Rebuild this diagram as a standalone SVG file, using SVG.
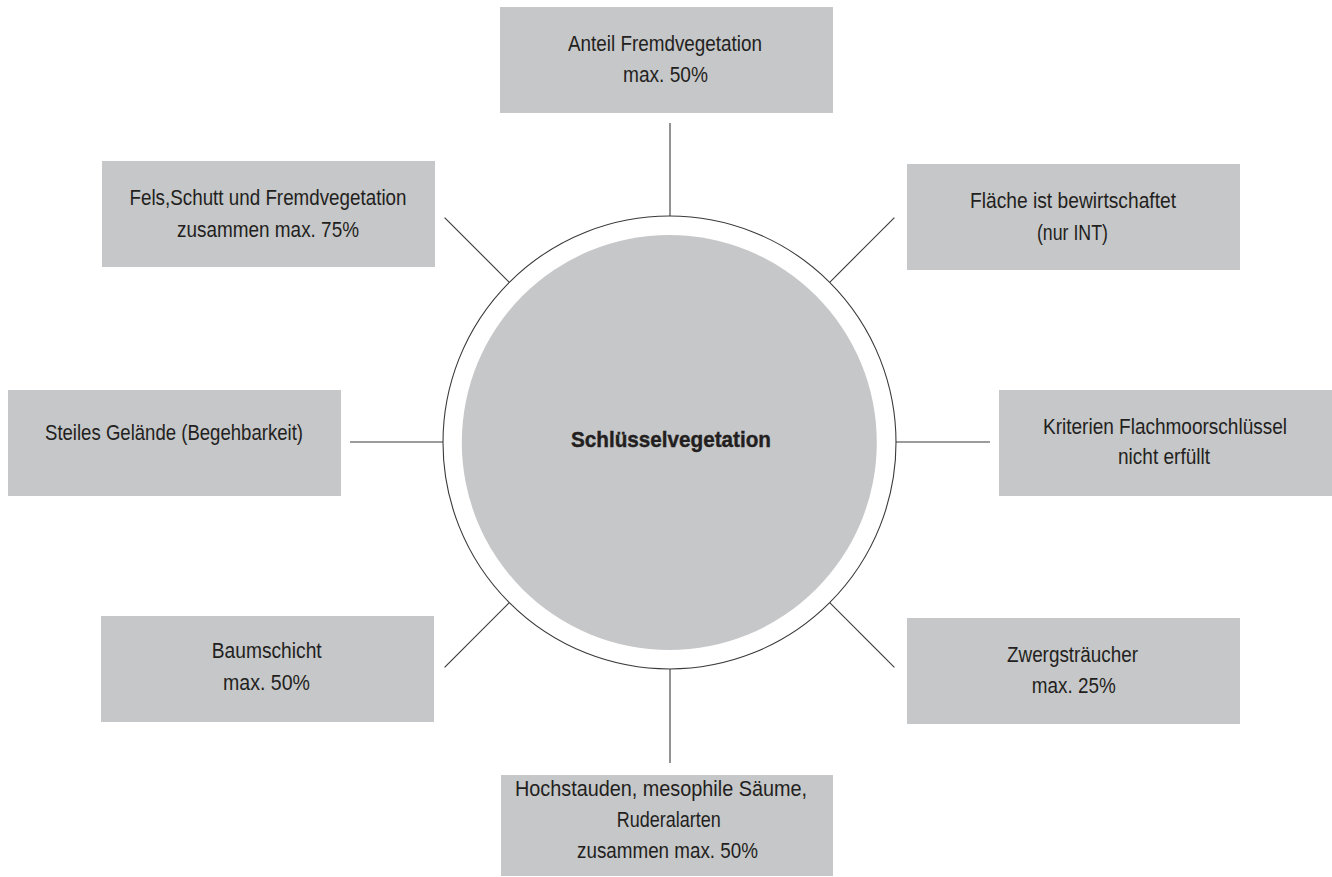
<svg xmlns="http://www.w3.org/2000/svg" width="1332" height="877" viewBox="0 0 1332 877">
<style>
.box{fill:#c6c7c9}
.t{font-family:"Liberation Sans",Arial,sans-serif;font-size:22px;fill:#231f20;text-anchor:middle}
.c{stroke:#3a3a3a;stroke-width:1.1;fill:none}
.h{font-family:"Liberation Sans",Arial,sans-serif;font-size:22px;font-weight:bold;fill:#231f20;text-anchor:middle;stroke:#231f20;stroke-width:0.4}
</style>
<rect width="1332" height="877" fill="#fff"/>
<g id="connectors">
<line class="c" x1="670" y1="123" x2="670" y2="216"/>
<line class="c" x1="670" y1="669" x2="670" y2="763"/>
<line class="c" x1="350" y1="442" x2="443" y2="442"/>
<line class="c" x1="896" y1="442" x2="990" y2="442"/>
<line class="c" x1="509.3" y1="282.3" x2="444.6" y2="217.6"/>
<line class="c" x1="829.7" y1="282.3" x2="894.4" y2="217.6"/>
<line class="c" x1="509.3" y1="602.7" x2="444.6" y2="667.4"/>
<line class="c" x1="829.7" y1="602.7" x2="894.4" y2="667.4"/>
</g>
<g id="center">
<circle cx="669.5" cy="442.5" r="226.5" fill="#fff" stroke="#3a3a3a" stroke-width="1.1"/>
<circle cx="669.3" cy="442.5" r="207.5" fill="#c6c7c9"/>
<text class="h" x="671" y="446.7" textLength="200" lengthAdjust="spacingAndGlyphs">Schlüsselvegetation</text>
</g>
<g id="n-top">
<rect class="box" x="500" y="7" width="333" height="106"/>
<text class="t" x="665" y="51" textLength="194" lengthAdjust="spacingAndGlyphs">Anteil Fremdvegetation</text>
<text class="t" x="665.5" y="82" textLength="85" lengthAdjust="spacingAndGlyphs">max. 50%</text>
</g>
<g id="n-fels">
<rect class="box" x="102" y="161" width="333" height="106"/>
<text class="t" x="268" y="205" textLength="277" lengthAdjust="spacingAndGlyphs">Fels,Schutt und Fremdvegetation</text>
<text class="t" x="268" y="236.7" textLength="182" lengthAdjust="spacingAndGlyphs">zusammen max. 75%</text>
</g>
<g id="n-flaeche">
<rect class="box" x="907" y="164" width="333" height="106"/>
<text class="t" x="1073" y="208" textLength="206" lengthAdjust="spacingAndGlyphs">Fläche ist bewirtschaftet</text>
<text class="t" x="1072.4" y="240" textLength="71" lengthAdjust="spacingAndGlyphs">(nur INT)</text>
</g>
<g id="n-steil">
<rect class="box" x="8" y="390" width="333" height="106"/>
<text class="t" x="174" y="440" textLength="258" lengthAdjust="spacingAndGlyphs">Steiles Gelände (Begehbarkeit)</text>
</g>
<g id="n-krit">
<rect class="box" x="999" y="390" width="333" height="106"/>
<text class="t" x="1165" y="434" textLength="244" lengthAdjust="spacingAndGlyphs">Kriterien Flachmoorschlüssel</text>
<text class="t" x="1164" y="464" textLength="92" lengthAdjust="spacingAndGlyphs">nicht erfüllt</text>
</g>
<g id="n-baum">
<rect class="box" x="101" y="616" width="333" height="106"/>
<text class="t" x="266.7" y="658" textLength="110" lengthAdjust="spacingAndGlyphs">Baumschicht</text>
<text class="t" x="266.5" y="690" textLength="87" lengthAdjust="spacingAndGlyphs">max. 50%</text>
</g>
<g id="n-zwerg">
<rect class="box" x="907" y="618" width="333" height="106"/>
<text class="t" x="1072.5" y="661.7" textLength="131" lengthAdjust="spacingAndGlyphs">Zwergsträucher</text>
<text class="t" x="1073.8" y="692.7" textLength="84" lengthAdjust="spacingAndGlyphs">max. 25%</text>
</g>
<g id="n-hoch">
<rect class="box" x="501" y="775" width="332" height="101"/>
<text class="t" x="661" y="796" textLength="292" lengthAdjust="spacingAndGlyphs">Hochstauden, mesophile Säume,</text>
<text class="t" x="668.7" y="827" textLength="104" lengthAdjust="spacingAndGlyphs">Ruderalarten</text>
<text class="t" x="667.5" y="858" textLength="181" lengthAdjust="spacingAndGlyphs">zusammen max. 50%</text>
</g>
</svg>
